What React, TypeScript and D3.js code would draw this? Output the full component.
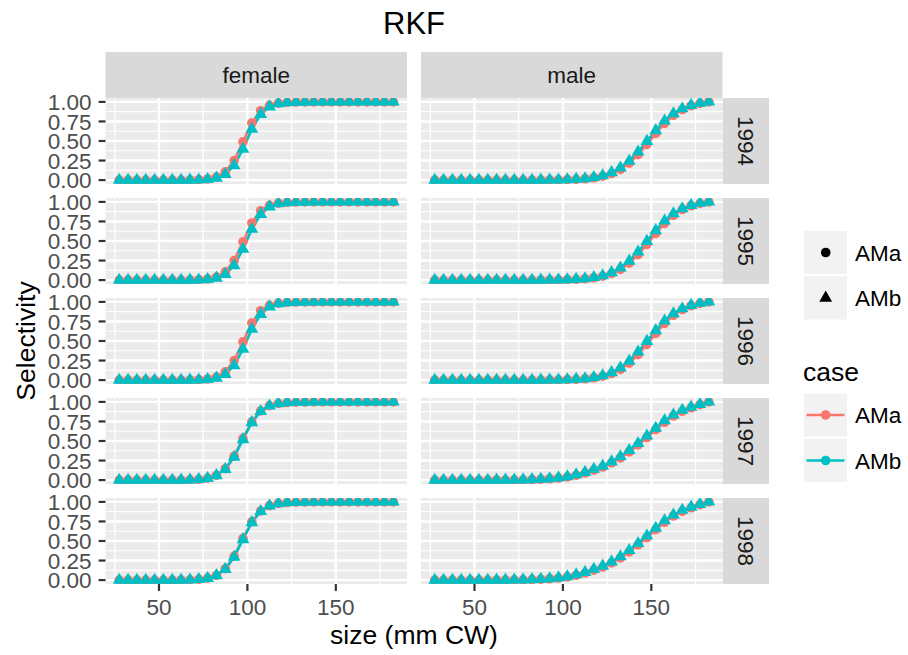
import React from "react";
import * as d3 from "d3";

const sizes = [27.5, 32.5, 37.5, 42.5, 47.5, 52.5, 57.5, 62.5, 67.5, 72.5, 77.5, 82.5, 87.5, 92.5, 97.5, 102.5,
  107.5, 112.5, 117.5, 122.5, 127.5, 132.5, 137.5, 142.5, 147.5, 152.5, 157.5, 162.5, 167.5, 172.5, 177.5, 182.5];

const years = ["1994", "1995", "1996", "1997", "1998"];
const sexes = ["female", "male"];
const cases = ["AMa", "AMb"];
const xTicks = [50, 100, 150];
const xMinor = [25, 75, 125, 175];
const yTicks = [0, 0.25, 0.5, 0.75, 1];
const yTickLabels = ["0.00", "0.25", "0.50", "0.75", "1.00"];
const yMinor = [0.125, 0.375, 0.625, 0.875];

const femaleAMa1994 = [0, 0, 0, 0, 0, 0, 0.0002, 0.0006, 0.0018, 0.005, 0.014, 0.039, 0.105, 0.25, 0.49, 0.73, 0.887, 0.957, 0.985, 0.995, 0.998, 1, 1, 1, 1, 1, 1, 1, 1, 1, 1, 1];
const femaleAMb1994 = [0, 0, 0, 0, 0, 0, 0.0001, 0.0004, 0.0012, 0.0034, 0.0098, 0.027, 0.074, 0.187, 0.397, 0.652, 0.843, 0.939, 0.978, 0.992, 0.997, 0.999, 1, 1, 1, 1, 1, 1, 1, 1, 1, 1];
const femaleAMa1995 = [0, 0, 0, 0, 0, 0, 0.0002, 0.0006, 0.0018, 0.005, 0.014, 0.039, 0.105, 0.25, 0.49, 0.73, 0.887, 0.957, 0.985, 0.995, 0.998, 1, 1, 1, 1, 1, 1, 1, 1, 1, 1, 1];
const femaleAMb1995 = [0, 0, 0, 0, 0, 0, 0.0001, 0.0004, 0.0012, 0.0034, 0.0098, 0.027, 0.074, 0.187, 0.397, 0.652, 0.843, 0.939, 0.978, 0.992, 0.997, 0.999, 1, 1, 1, 1, 1, 1, 1, 1, 1, 1];
const femaleAMa1996 = [0, 0, 0, 0, 0, 0, 0.0002, 0.0006, 0.0018, 0.005, 0.014, 0.039, 0.105, 0.25, 0.49, 0.73, 0.887, 0.957, 0.985, 0.995, 0.998, 1, 1, 1, 1, 1, 1, 1, 1, 1, 1, 1];
const femaleAMb1996 = [0, 0, 0, 0, 0, 0, 0.0001, 0.0004, 0.0012, 0.0034, 0.0098, 0.027, 0.074, 0.187, 0.397, 0.652, 0.843, 0.939, 0.978, 0.992, 0.997, 0.999, 1, 1, 1, 1, 1, 1, 1, 1, 1, 1];
const femaleAMa1997 = [0, 0, 0, 0, 0, 0, 0.0006, 0.0015, 0.0038, 0.0098, 0.025, 0.062, 0.146, 0.306, 0.533, 0.747, 0.884, 0.952, 0.981, 0.992, 0.997, 0.999, 1, 1, 1, 1, 1, 1, 1, 1, 1, 1];
const femaleAMb1997 = [0, 0, 0, 0, 0, 0, 0.0005, 0.0014, 0.0036, 0.0093, 0.024, 0.059, 0.139, 0.295, 0.52, 0.737, 0.879, 0.949, 0.98, 0.992, 0.997, 0.999, 1, 1, 1, 1, 1, 1, 1, 1, 1, 1];
const femaleAMa1998 = [0, 0, 0, 0, 0, 0, 0.0006, 0.0015, 0.0038, 0.0098, 0.025, 0.062, 0.146, 0.306, 0.533, 0.747, 0.884, 0.952, 0.981, 0.992, 0.997, 0.999, 1, 1, 1, 1, 1, 1, 1, 1, 1, 1];
const femaleAMb1998 = [0, 0, 0, 0, 0, 0, 0.0005, 0.0014, 0.0036, 0.0093, 0.024, 0.059, 0.139, 0.295, 0.52, 0.737, 0.879, 0.949, 0.98, 0.992, 0.997, 0.999, 1, 1, 1, 1, 1, 1, 1, 1, 1, 1];

const maleAMa1994 = [0, 0, 0, 0, 0, 0, 0, 0, 0, 0, 0, 0.0006, 0.0011, 0.0019, 0.0033, 0.006, 0.01, 0.017, 0.03, 0.05, 0.084, 0.137, 0.216, 0.325, 0.457, 0.597, 0.726, 0.829, 0.902, 0.951, 0.981, 1];
const maleAMb1994 = [0, 0, 0, 0, 0, 0, 0, 0, 0, 0, 0, 0.0007, 0.0013, 0.0022, 0.004, 0.007, 0.012, 0.02, 0.035, 0.058, 0.097, 0.157, 0.245, 0.361, 0.497, 0.635, 0.757, 0.85, 0.915, 0.958, 0.984, 1];
const maleAMa1995 = [0, 0, 0, 0, 0, 0, 0, 0, 0, 0, 0, 0.0006, 0.0011, 0.0019, 0.0033, 0.006, 0.01, 0.017, 0.03, 0.05, 0.084, 0.137, 0.216, 0.325, 0.457, 0.597, 0.726, 0.829, 0.902, 0.951, 0.981, 1];
const maleAMb1995 = [0, 0, 0, 0, 0, 0, 0, 0, 0, 0, 0, 0.0007, 0.0013, 0.0022, 0.004, 0.007, 0.012, 0.02, 0.035, 0.058, 0.097, 0.157, 0.245, 0.361, 0.497, 0.635, 0.757, 0.85, 0.915, 0.958, 0.984, 1];
const maleAMa1996 = [0, 0, 0, 0, 0, 0, 0, 0, 0, 0, 0, 0.0006, 0.0011, 0.0019, 0.0033, 0.006, 0.01, 0.017, 0.03, 0.05, 0.084, 0.137, 0.216, 0.325, 0.457, 0.597, 0.726, 0.829, 0.902, 0.951, 0.981, 1];
const maleAMb1996 = [0, 0, 0, 0, 0, 0, 0, 0, 0, 0, 0, 0.0007, 0.0013, 0.0022, 0.004, 0.007, 0.012, 0.02, 0.035, 0.058, 0.097, 0.157, 0.245, 0.361, 0.497, 0.635, 0.757, 0.85, 0.915, 0.958, 0.984, 1];
const maleAMa1997 = [0, 0, 0, 0, 0, 0, 0.0004, 0.001, 0.002, 0.003, 0.004, 0.007, 0.011, 0.017, 0.026, 0.04, 0.062, 0.09, 0.127, 0.167, 0.22, 0.283, 0.36, 0.45, 0.545, 0.645, 0.74, 0.82, 0.88, 0.925, 0.965, 1];
const maleAMb1997 = [0, 0, 0, 0, 0, 0, 0.0005, 0.001, 0.002, 0.003, 0.005, 0.008, 0.013, 0.02, 0.03, 0.045, 0.07, 0.1, 0.14, 0.18, 0.235, 0.3, 0.38, 0.47, 0.565, 0.665, 0.76, 0.835, 0.895, 0.935, 0.97, 1];
const maleAMa1998 = [0, 0, 0, 0, 0, 0, 0.0004, 0.001, 0.002, 0.003, 0.004, 0.007, 0.011, 0.017, 0.026, 0.04, 0.062, 0.09, 0.127, 0.167, 0.22, 0.283, 0.36, 0.45, 0.545, 0.645, 0.74, 0.82, 0.88, 0.925, 0.965, 1];
const maleAMb1998 = [0, 0, 0, 0, 0, 0, 0.0005, 0.001, 0.002, 0.003, 0.005, 0.008, 0.013, 0.02, 0.03, 0.045, 0.07, 0.1, 0.14, 0.18, 0.235, 0.3, 0.38, 0.47, 0.565, 0.665, 0.76, 0.835, 0.895, 0.935, 0.97, 1];

const series: Record<string, number[][]> = {
  "female-1994": [femaleAMa1994, femaleAMb1994],
  "female-1995": [femaleAMa1995, femaleAMb1995],
  "female-1996": [femaleAMa1996, femaleAMb1996],
  "female-1997": [femaleAMa1997, femaleAMb1997],
  "female-1998": [femaleAMa1998, femaleAMb1998],
  "male-1994": [maleAMa1994, maleAMb1994],
  "male-1995": [maleAMa1995, maleAMb1995],
  "male-1996": [maleAMa1996, maleAMb1996],
  "male-1997": [maleAMa1997, maleAMb1997],
  "male-1998": [maleAMa1998, maleAMb1998],
};

const colors = ["#F8766D", "#00BFC4"];
const FONT = "'Liberation Sans', Arial, Helvetica, sans-serif";

const W = 908, H = 655;
const colX0 = [105.5, 421];
const panelW = 301.5;
const rowY0 = 98;
const rowStep = 100;
const panelH = 86;
const stripTopY = 52;
const stripRightW = 46.5;

const CR = 4.8; // circle radius
const TR = 7.4; // triangle circumradius

function triPath(cx: number, cy: number) {
  const r = TR;
  const xc = r * Math.sqrt(3) / 2;
  const yc = r / 2;
  return `M${cx},${cy - r}L${cx + xc},${cy + yc}L${cx - xc},${cy + yc}Z`;
}

export default function App() {
  const xScales = colX0.map((x0) =>
    d3.scaleLinear().domain([27.5 - 7.75, 182.5 + 7.75]).range([x0, x0 + panelW])
  );
  const yScales = years.map((_, i) =>
    d3.scaleLinear().domain([-0.05, 1.05]).range([rowY0 + i * rowStep + panelH, rowY0 + i * rowStep])
  );
  const panelsRight = colX0[1] + panelW;
  const centerX = (colX0[0] + panelsRight) / 2;

  return (
    <div style={{ position: "absolute", left: 0, top: 0 }}>
      <svg width={W} height={H} style={{ display: "block", fontFamily: FONT }}>
        <rect x={0} y={0} width={W} height={H} fill="#FFFFFF" />
        <defs>
          {sexes.map((s, ci) =>
            years.map((y, ri) => (
              <clipPath id={`clip-${s}-${y}`} key={`c-${s}-${y}`}>
                <rect x={colX0[ci]} y={rowY0 + ri * rowStep} width={panelW} height={panelH} />
              </clipPath>
            ))
          )}
        </defs>
        {/* Title */}
        <text x={centerX} y={34} fontSize={31} textAnchor="middle" fill="#000">RKF</text>

        {/* Top strips */}
        {sexes.map((s, ci) => (
          <g key={`strip-${s}`}>
            <rect x={colX0[ci]} y={stripTopY} width={panelW} height={rowY0 - stripTopY} fill="#D9D9D9" />
            <text x={colX0[ci] + panelW / 2} y={(stripTopY + rowY0) / 2} dy="0.36em" fontSize={22.5} textAnchor="middle" fill="#1A1A1A">{s}</text>
          </g>
        ))}

        {/* Right strips */}
        {years.map((y, ri) => {
          const cy = rowY0 + ri * rowStep + panelH / 2;
          const cx = panelsRight + stripRightW / 2;
          return (
            <g key={`rs-${y}`}>
              <rect x={panelsRight} y={rowY0 + ri * rowStep} width={stripRightW} height={panelH} fill="#D9D9D9" />
              <text transform={`translate(${cx},${cy}) rotate(90)`} dy="0.36em" fontSize={22.5} textAnchor="middle" fill="#1A1A1A">{y}</text>
            </g>
          );
        })}

        {/* Panels */}
        {sexes.map((s, ci) =>
          years.map((y, ri) => {
            const xs = xScales[ci];
            const ys = yScales[ri];
            const py0 = rowY0 + ri * rowStep;
            const data = series[`${s}-${y}`];
            const line = d3.line<number>().x((_, i) => xs(sizes[i])).y((v) => ys(v));
            return (
              <g key={`p-${s}-${y}`}>
                <rect x={colX0[ci]} y={py0} width={panelW} height={panelH} fill="#EBEBEB" />
                {yMinor.map((t) => (
                  <line key={`ym${t}`} x1={colX0[ci]} x2={colX0[ci] + panelW} y1={ys(t)} y2={ys(t)} stroke="#FFFFFF" strokeWidth={1.2} />
                ))}
                {xMinor.map((t) => (
                  <line key={`xm${t}`} x1={xs(t)} x2={xs(t)} y1={py0} y2={py0 + panelH} stroke="#FFFFFF" strokeWidth={1.2} />
                ))}
                {yTicks.map((t) => (
                  <line key={`yM${t}`} x1={colX0[ci]} x2={colX0[ci] + panelW} y1={ys(t)} y2={ys(t)} stroke="#FFFFFF" strokeWidth={2.4} />
                ))}
                {xTicks.map((t) => (
                  <line key={`xM${t}`} x1={xs(t)} x2={xs(t)} y1={py0} y2={py0 + panelH} stroke="#FFFFFF" strokeWidth={2.4} />
                ))}
                <g clipPath={`url(#clip-${s}-${y})`}>
                  {data.map((vals, k) => (
                    <path key={`l${k}`} d={line(vals) || ""} fill="none" stroke={colors[k]} strokeWidth={2.6} />
                  ))}
                  {data[0].map((v, i) => (
                    <circle key={`a${i}`} cx={xs(sizes[i])} cy={ys(v)} r={CR} fill={colors[0]} />
                  ))}
                  {data[1].map((v, i) => (
                    <path key={`b${i}`} d={triPath(xs(sizes[i]), ys(v))} fill={colors[1]} />
                  ))}
                </g>
              </g>
            );
          })
        )}

        {/* Y axis ticks and labels */}
        {years.map((y, ri) => (
          <g key={`ya-${y}`}>
            {yTicks.map((t, k) => (
              <g key={`yt${t}`}>
                <line x1={colX0[0] - 6.9} x2={colX0[0]} y1={yScales[ri](t)} y2={yScales[ri](t)} stroke="#333333" strokeWidth={2.2} />
                <text x={colX0[0] - 14} y={yScales[ri](t)} dy="0.36em" fontSize={22.5} textAnchor="end" fill="#4D4D4D">{yTickLabels[k]}</text>
              </g>
            ))}
          </g>
        ))}

        {/* X axis ticks and labels */}
        {sexes.map((s, ci) => (
          <g key={`xa-${s}`}>
            {xTicks.map((t) => {
              const by = rowY0 + 4 * rowStep + panelH;
              return (
                <g key={`xt${t}`}>
                  <line x1={xScales[ci](t)} x2={xScales[ci](t)} y1={by} y2={by + 6.9} stroke="#333333" strokeWidth={2.2} />
                  <text x={xScales[ci](t)} y={615} fontSize={22.5} textAnchor="middle" fill="#4D4D4D">{t}</text>
                </g>
              );
            })}
          </g>
        ))}

        {/* Axis titles */}
        <text x={centerX} y={644} fontSize={26.5} textAnchor="middle" fill="#000">size (mm CW)</text>
        <text transform={`translate(35,${(rowY0 + rowY0 + 4 * rowStep + panelH) / 2}) rotate(-90)`} fontSize={26.5} textAnchor="middle" fill="#000">Selectivity</text>

        {/* Legend 1: shapes */}
        {cases.map((c, k) => {
          const ky = 231 + k * 45.5;
          const cx = 825.7;
          const cy = ky + 21.5;
          return (
            <g key={`l1-${c}`}>
              <rect x={804} y={ky} width={43} height={43} fill="#F2F2F2" />
              {k === 0 ? (
                <circle cx={cx} cy={cy} r={CR} fill="#000" />
              ) : (
                <path d={triPath(cx, cy)} fill="#000" />
              )}
              <text x={855} y={cy} dy="0.36em" fontSize={22.5} fill="#000">{c}</text>
            </g>
          );
        })}

        {/* Legend 2: case colour */}
        <text x={803} y={381} fontSize={26.5} fill="#000">case</text>
        {cases.map((c, k) => {
          const ky = 393.5 + k * 45.5;
          const cx = 825.7;
          const cy = ky + 21.5;
          return (
            <g key={`l2-${c}`}>
              <rect x={804} y={ky} width={43} height={43} fill="#F2F2F2" />
              <line x1={806.5} x2={844.5} y1={cy} y2={cy} stroke={colors[k]} strokeWidth={2.6} />
              <circle cx={cx} cy={cy} r={CR} fill={colors[k]} />
              <text x={855} y={cy} dy="0.36em" fontSize={22.5} fill="#000">{c}</text>
            </g>
          );
        })}
      </svg>
    </div>
  );
}
